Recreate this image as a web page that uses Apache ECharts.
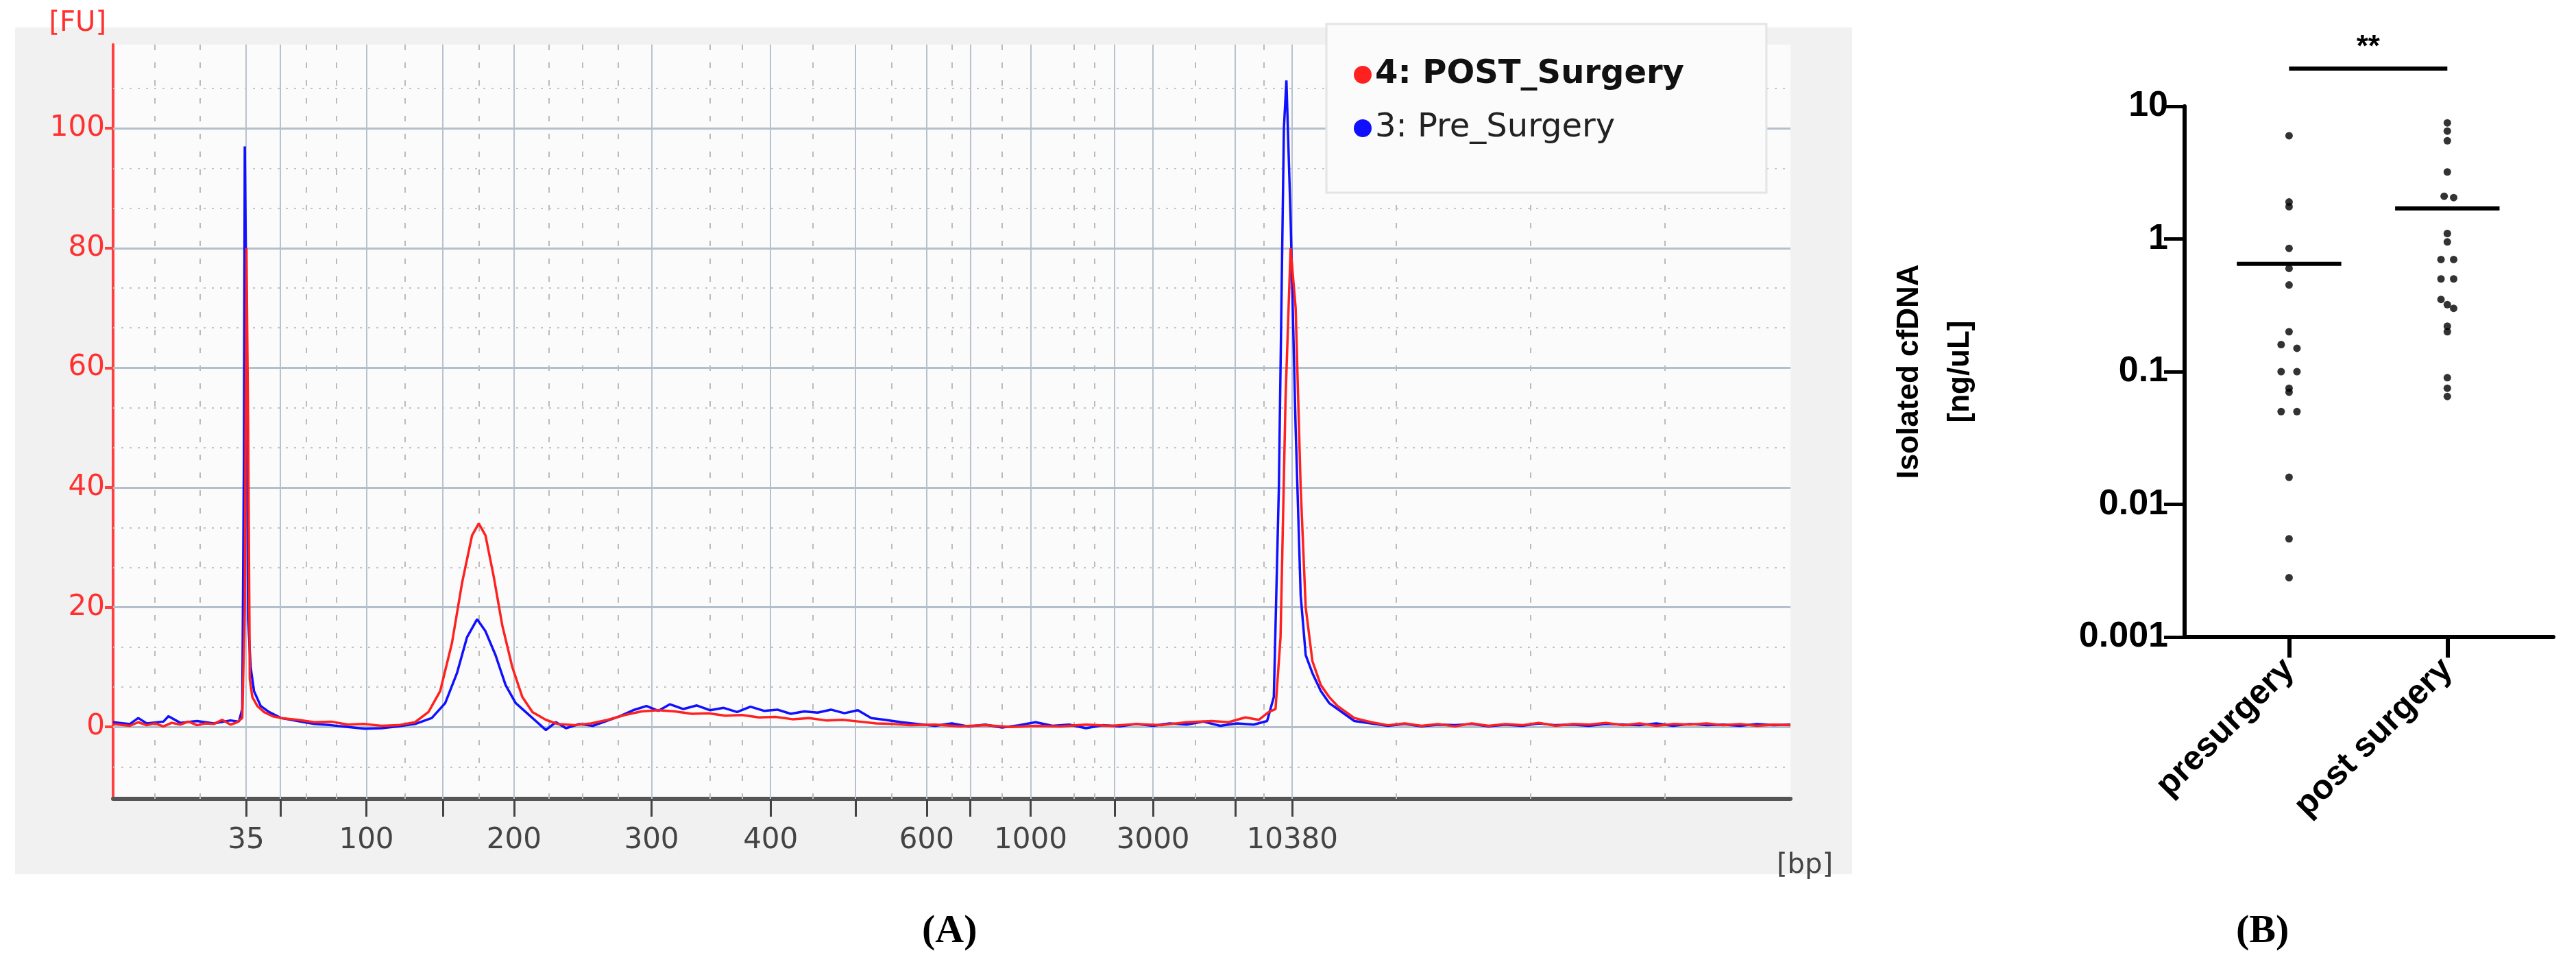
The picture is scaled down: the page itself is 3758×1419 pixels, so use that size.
<!DOCTYPE html>
<html>
<head>
<meta charset="utf-8">
<script src="https://cdn.jsdelivr.net/npm/echarts@6/dist/echarts.min.js"></script>
<style>html,body{margin:0;padding:0;background:#fff}#main{width:3758px;height:1419px}</style>
</head>
<body>
<div id="main"></div>
<script>
// Panel A: x in migration units, labelled with bp ladder sizes
var bpLabels = ['35', '100', '200', '300', '400', '600', '1000', '3000', '10380'];
var bpPos = [7.93, 15.1, 23.9, 32.1, 39.2, 48.5, 54.7, 62.0, 70.3];
var extraTicks = [9.97, 19.66, 44.26, 51.1, 59.7, 66.9];
var minorX = [2.5, 5.2, 11.5, 13.3, 17.4, 21.8, 26.0, 28.0, 30.1, 35.6, 37.5, 41.7, 46.4, 50.0, 53.0, 57.3, 58.5, 64.5, 68.6, 76.5, 84.5, 92.5];
var fuTicks = [0, 20, 40, 60, 80, 100];
var fuMinor = [-6.67, 6.67, 13.33, 26.67, 33.33, 46.67, 53.33, 66.67, 73.33, 86.67, 93.33, 106.67];

var postSurgery = [[0,0.5],[1,0.2],[1.5,0.8],[2,0.3],[2.5,0.6],[3,0.1],[3.5,0.7],[4,0.4],[4.5,0.9],[5,0.3],[5.5,0.6],[6,0.5],[6.5,1.2],[7,0.4],[7.4,0.8],[7.7,1.5],[7.85,20],[7.95,80],[8.05,50],[8.15,8],[8.3,5],[8.6,3.5],[9,2.5],[9.5,1.8],[10,1.5],[11,1.2],[12,0.8],[13,0.9],[14,0.4],[15,0.5],[16,0.2],[17,0.3],[18,0.8],[18.8,2.5],[19.5,6],[20.2,14],[20.8,24],[21.4,32],[21.8,34],[22.2,32],[22.7,25],[23.2,17],[23.8,10],[24.4,5],[25,2.5],[25.8,1.2],[26.5,0.5],[27.5,0.3],[28.5,0.6],[29.5,1.2],[30.5,2],[31.5,2.6],[32.5,2.8],[33.5,2.6],[34.5,2.2],[35.5,2.3],[36.5,1.9],[37.5,2],[38.5,1.6],[39.5,1.7],[40.5,1.3],[41.5,1.5],[42.5,1.1],[43.5,1.2],[44.5,0.9],[45.5,0.6],[46.5,0.5],[47.5,0.3],[49,0.4],[50.5,0.1],[52,0.3],[53.5,0],[55,0.2],[56.5,0.1],[58,0.4],[59.5,0.2],[61,0.5],[62.5,0.3],[64,0.8],[65.5,1],[66.5,0.8],[67.5,1.6],[68.3,1.2],[68.9,2.5],[69.3,3],[69.6,15],[69.9,55],[70.2,80],[70.5,70],[70.8,40],[71.1,20],[71.5,11],[72,7],[72.5,5],[73,3.5],[73.5,2.5],[74,1.5],[75,0.8],[76,0.3],[77,0.6],[78,0.2],[79,0.5],[80,0.1],[81,0.6],[82,0.2],[83,0.5],[84,0.3],[85,0.7],[86,0.2],[87,0.5],[88,0.4],[89,0.7],[90,0.3],[91,0.6],[92,0.2],[93,0.5],[94,0.4],[95,0.6],[96,0.3],[97,0.5],[98,0.2],[99,0.4],[100,0.3]];
var preSurgery = [[0,0.8],[1,0.5],[1.5,1.5],[2,0.6],[3,0.9],[3.3,1.8],[4,0.7],[5,1.0],[6,0.6],[7,1.1],[7.5,0.9],[7.7,3],[7.8,45],[7.85,97],[7.95,70],[8.05,18],[8.2,10],[8.4,6],[8.8,3.5],[9.3,2.5],[10,1.5],[11,1],[12,0.5],[13,0.3],[14,0],[15,-0.3],[16,-0.2],[17,0.1],[18,0.5],[19,1.5],[19.8,4],[20.5,9],[21.1,15],[21.7,18],[22.2,16],[22.8,12],[23.4,7],[24,4],[24.6,2.5],[25.2,1],[25.8,-0.5],[26.4,0.8],[27,-0.2],[27.8,0.5],[28.6,0.2],[29.4,1],[30.2,1.8],[31,2.8],[31.8,3.5],[32.5,2.7],[33.2,3.8],[34,3],[34.8,3.6],[35.6,2.8],[36.4,3.2],[37.2,2.5],[38,3.4],[38.8,2.7],[39.6,2.9],[40.4,2.2],[41.2,2.6],[42,2.4],[42.8,2.9],[43.6,2.3],[44.4,2.8],[45.2,1.5],[46,1.2],[47,0.8],[48,0.5],[49,0.2],[50,0.6],[51,0.1],[52,0.4],[53,-0.1],[54,0.3],[55,0.8],[56,0.2],[57,0.4],[58,-0.2],[59,0.3],[60,0.1],[61,0.5],[62,0.2],[63,0.6],[64,0.4],[65,0.9],[66,0.2],[67,0.6],[68,0.4],[68.8,1],[69.2,5],[69.5,40],[69.8,100],[69.95,108],[70.2,85],[70.5,50],[70.8,22],[71.1,12],[71.5,9],[72,6],[72.5,4],[73,3],[73.5,2],[74,1],[75,0.6],[76,0.2],[77,0.5],[78,0.1],[79,0.4],[80,0.3],[81,0.5],[82,0.1],[83,0.4],[84,0.2],[85,0.6],[86,0.3],[87,0.4],[88,0.2],[89,0.5],[90,0.4],[91,0.3],[92,0.6],[93,0.2],[94,0.5],[95,0.3],[96,0.4],[97,0.2],[98,0.5],[99,0.3],[100,0.4]];

// Panel B: cfDNA concentrations [ng/uL], x = group index + small swarm offset
var groups = ['presurgery', 'post surgery'];
var preValues = [[0,6],[0,1.9],[0,1.75],[0,0.85],[0,0.6],[0,0.45],[0,0.2],[-0.05,0.16],[0.05,0.15],[-0.05,0.1],[0.05,0.1],[0,0.075],[0,0.07],[-0.05,0.05],[0.05,0.05],[0,0.016],[0,0.0055],[0,0.0028]];
var postValues = [[1,7.5],[1,6.5],[1,5.5],[1,3.2],[0.98,2.1],[1.04,2.05],[1,1.1],[1,0.95],[0.96,0.7],[1.04,0.7],[0.96,0.5],[1.04,0.5],[0.96,0.35],[1,0.32],[1.04,0.3],[1,0.22],[1,0.2],[1,0.09],[1,0.075],[1,0.065]];
var medians = [0.65, 1.7];

var chart = echarts.init(document.getElementById('main'));
var gridLineStyle = { color: '#b4bfcc', width: 3, type: 'solid' };
var dotStyle = { color: '#c4c4c4', width: 2, type: [3, 9] };

var markX = bpPos.concat(extraTicks).map(function (v) { return { xAxis: v, lineStyle: { color: '#b8c2cf', width: 2, type: 'solid' } }; })
  .concat(minorX.map(function (v) { return { xAxis: v, lineStyle: { color: '#bbbbbb', width: 2, type: [8, 18] } }; }));
var markY = fuTicks.map(function (v) { return { yAxis: v, lineStyle: gridLineStyle }; })
  .concat(fuMinor.map(function (v) { return { yAxis: v, lineStyle: dotStyle }; }));

var option = {
  backgroundColor: '#fff',
  animation: false,
  graphic: [
    { type: 'rect', z: -10, shape: { x: 22, y: 40, width: 2680, height: 1235 }, style: { fill: '#f1f1f1' } },
    { type: 'text', left: 1345, top: 1330, style: { text: '(A)', font: 'bold 58px "Liberation Serif"', fill: '#000' } },
    { type: 'text', left: 3262, top: 1330, style: { text: '(B)', font: 'bold 58px "Liberation Serif"', fill: '#000' } }
  ],
  legend: {
    orient: 'vertical', left: 1935, top: 35, icon: 'circle', itemWidth: 26, itemHeight: 26, itemGap: 30,
    backgroundColor: '#fbfbfb', borderColor: '#e4e4e4', borderWidth: 3, padding: [50, 120, 70, 40],
    data: ['4: POST_Surgery', '3: Pre_Surgery'],
    formatter: function (n) { return n.indexOf('POST') >= 0 ? '{b|' + n + '}' : '{n|' + n + '}'; },
    textStyle: { rich: {
      b: { fontFamily: 'DejaVu Sans', fontWeight: 'bold', fontSize: 48, color: '#111' },
      n: { fontFamily: 'DejaVu Sans', fontSize: 48, color: '#222' } } }
  },
  grid: [
    { left: 165, right: 3758 - 2612, top: 65, bottom: 1419 - 1165, show: true, backgroundColor: '#fbfbfb', borderWidth: 0 },
    { left: 3187, right: 3758 - 3725, top: 155, bottom: 1419 - 929 }
  ],
  xAxis: [
    { gridIndex: 0, type: 'value', min: 0, max: 100, splitLine: { show: false },
      axisLine: { onZero: false, lineStyle: { color: '#555', width: 6 } },
      axisTick: { customValues: bpPos.concat(extraTicks), length: 26, lineStyle: { color: '#444', width: 3 } },
      axisLabel: { customValues: bpPos, formatter: function (v) { return bpLabels[bpPos.indexOf(v)]; },
        color: '#444', fontSize: 42, fontFamily: 'DejaVu Sans', margin: 40 },
      name: '[bp]', nameLocation: 'end', nameGap: -20,
      nameTextStyle: { color: '#444', fontSize: 40, fontFamily: 'DejaVu Sans', verticalAlign: 'top', padding: [78, 0, 0, 0] } },
    { gridIndex: 1, type: 'value', min: -0.66, max: 1.67, splitLine: { show: false },
      axisLine: { onZero: false, lineStyle: { color: '#000', width: 6 } },
      axisTick: { customValues: [0, 1], length: 30, lineStyle: { color: '#000', width: 6 } },
      axisLabel: { customValues: [0, 1], formatter: function (v) { return groups[v]; }, rotate: 45,
        color: '#000', fontSize: 50, fontWeight: 'bold', fontFamily: 'Liberation Sans', margin: 40 } }
  ],
  yAxis: [
    { gridIndex: 0, type: 'value', min: -12, max: 114, splitLine: { show: false },
      axisLine: { show: true, onZero: false, lineStyle: { color: '#ff4040', width: 4 } },
      axisTick: { customValues: fuTicks, length: 12, lineStyle: { color: '#ff4040', width: 4 } },
      axisLabel: { customValues: fuTicks, color: '#ff3030', fontSize: 42, fontFamily: 'DejaVu Sans', margin: 12 },
      name: '[FU]', nameLocation: 'end', nameGap: 10,
      nameTextStyle: { color: '#ff3030', fontSize: 40, fontFamily: 'DejaVu Sans', align: 'right', padding: [0, 10, 0, 0] } },
    { gridIndex: 1, type: 'log', min: 0.001, max: 10, logBase: 10, splitLine: { show: false },
      axisLine: { show: true, onZero: false, lineStyle: { color: '#000', width: 6 } },
      axisTick: { length: 30, lineStyle: { color: '#000', width: 5 } },
      axisLabel: { color: '#000', fontSize: 52, fontWeight: 'bold', fontFamily: 'Liberation Sans', margin: 24,
        formatter: function (v) { return String(+v.toPrecision(1)); } },
      name: 'Isolated cfDNA\n[ng/uL]', nameLocation: 'middle', nameGap: 290, nameRotate: 90,
      nameTextStyle: { color: '#000', fontSize: 44, fontWeight: 'bold', fontFamily: 'Liberation Sans', lineHeight: 74 } }
  ],
  series: [
    { name: '3: Pre_Surgery', type: 'line', xAxisIndex: 0, yAxisIndex: 0, data: preSurgery, showSymbol: false,
      lineStyle: { color: '#1010ff', width: 3.5 }, itemStyle: { color: '#1010ff' }, z: 3,
      markLine: { silent: true, symbol: 'none', label: { show: false }, data: markX.concat(markY), z: 1 } },
    { name: '4: POST_Surgery', type: 'line', xAxisIndex: 0, yAxisIndex: 0, data: postSurgery, showSymbol: false,
      lineStyle: { color: '#ff2020', width: 3.5 }, itemStyle: { color: '#ff2020' }, z: 4 },
    { type: 'scatter', xAxisIndex: 1, yAxisIndex: 1, data: preValues, symbolSize: 11, itemStyle: { color: '#000' } },
    { type: 'scatter', xAxisIndex: 1, yAxisIndex: 1, data: postValues, symbolSize: 11, itemStyle: { color: '#000' } },
    { type: 'line', xAxisIndex: 1, yAxisIndex: 1, data: [[-0.33, medians[0]], [0.33, medians[0]]], showSymbol: false, lineStyle: { color: '#000', width: 6 } },
    { type: 'line', xAxisIndex: 1, yAxisIndex: 1, data: [[0.67, medians[1]], [1.33, medians[1]]], showSymbol: false, lineStyle: { color: '#000', width: 6 } }
  ]
};
chart.setOption(option);

// significance bracket above panel B, spanning the two groups
var p0 = chart.convertToPixel({ xAxisIndex: 1, yAxisIndex: 1 }, [0, 10]);
var p1 = chart.convertToPixel({ xAxisIndex: 1, yAxisIndex: 1 }, [1, 10]);
chart.setOption({ graphic: option.graphic.concat([
  { type: 'line', shape: { x1: p0[0], y1: 100, x2: p1[0], y2: 100 }, style: { stroke: '#000', lineWidth: 6 } },
  { type: 'text', x: (p0[0] + p1[0]) / 2, y: 92, style: { text: '**', font: 'bold 44px "Liberation Sans"', fill: '#000', align: 'center', verticalAlign: 'bottom' } }
]) });
</script>
</body>
</html>
